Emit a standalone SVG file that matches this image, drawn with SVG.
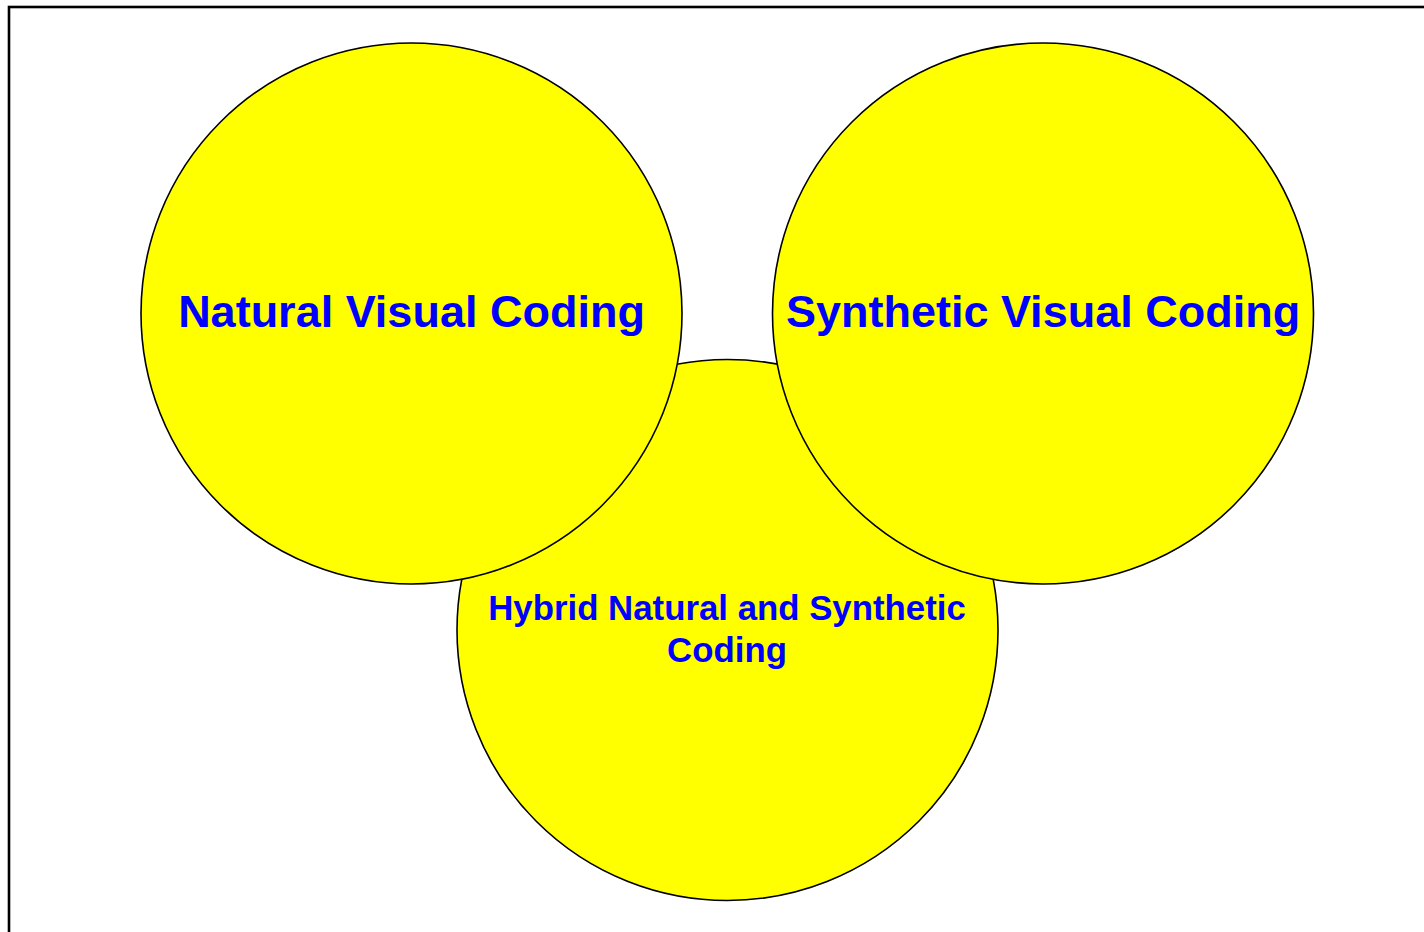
<svg xmlns="http://www.w3.org/2000/svg" width="1424" height="932" viewBox="0 0 1424 932">
  <style>
    .ring { fill: #ffff00; stroke: #000000; stroke-width: 1.6; }
    .label { font-family: "Liberation Sans", Arial, sans-serif; font-weight: bold; fill: #0000ff; text-anchor: middle; }
    .big { font-size: 45px; }
    .small { font-size: 34.8px; }
  </style>
  <rect x="0" y="0" width="1424" height="932" fill="#ffffff"/>
  <!-- page frame, running off the right and bottom edges -->
  <rect x="9" y="7" width="1440" height="960" fill="none" stroke="#000000" stroke-width="2.6"/>

  <g id="hybrid">
    <circle class="ring" cx="727.5" cy="630" r="270.5"/>
    <text class="label small" x="727" y="620">Hybrid Natural and Synthetic</text>
    <text class="label small" x="727" y="662">Coding</text>
  </g>
  <g id="natural">
    <circle class="ring" cx="411.5" cy="313.5" r="270.5"/>
    <text class="label big" x="411.5" y="327">Natural Visual Coding</text>
  </g>
  <g id="synthetic">
    <circle class="ring" cx="1043" cy="313.5" r="270.5"/>
    <text class="label big" x="1043" y="327">Synthetic Visual Coding</text>
  </g>
  <g id="connectors"></g>
</svg>
